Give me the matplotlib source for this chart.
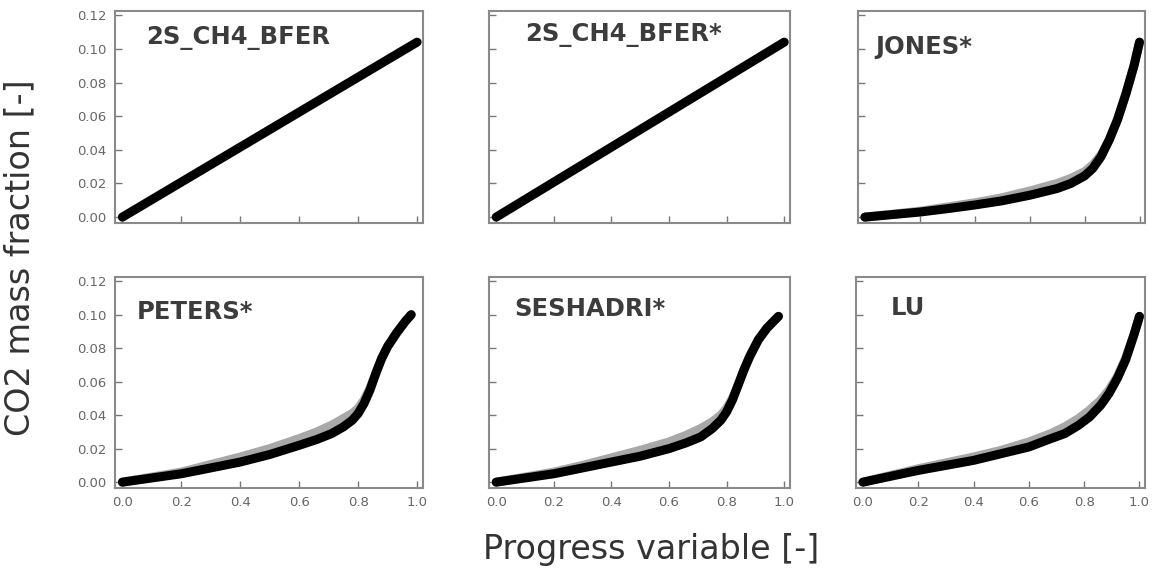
'''
CO2 mass fraction against progress variable for six mechanisms
'''
import numpy as np
import matplotlib
matplotlib.use('Agg')
import matplotlib.pyplot as plt

names = ['2S_CH4_BFER', '2S_CH4_BFER*', 'JONES*', 'PETERS*', 'SESHADRI*', 'LU']

x_lin   = [0.0, 1.0]
y_bfer  = [0.0, 0.104]
y_bfer2 = [0.0, 0.104]

x_jones = [0.0, 0.1, 0.2, 0.3, 0.4, 0.5, 0.6, 0.7, 0.75, 0.8, 0.83, 0.86, 0.89, 0.92, 0.95, 0.98, 1.0]
y_jones = [0.0, 0.0015, 0.003, 0.005, 0.0072, 0.0097, 0.013, 0.017, 0.020, 0.0245, 0.029, 0.036, 0.046, 0.058, 0.073, 0.090, 0.104]
g_jones = [0.0, 0.0017, 0.0035, 0.006, 0.0085, 0.0115, 0.0155, 0.020, 0.023, 0.027, 0.031, 0.037, 0.046, 0.058, 0.073, 0.090, 0.104]

x_peters = [0.0, 0.1, 0.2, 0.3, 0.4, 0.5, 0.6, 0.66, 0.71, 0.75, 0.78, 0.80, 0.82, 0.84, 0.86, 0.88, 0.90, 0.93, 0.96, 0.98]
y_peters = [0.0, 0.0025, 0.005, 0.0085, 0.012, 0.0165, 0.022, 0.0255, 0.029, 0.033, 0.037, 0.041, 0.047, 0.055, 0.065, 0.074, 0.081, 0.089, 0.096, 0.100]
g_peters = [0.0, 0.003, 0.006, 0.0105, 0.015, 0.020, 0.026, 0.030, 0.034, 0.038, 0.041, 0.044, 0.049, 0.056, 0.065, 0.074, 0.081, 0.089, 0.096, 0.100]

x_seshadri = [0.0, 0.1, 0.2, 0.3, 0.4, 0.5, 0.6, 0.66, 0.71, 0.75, 0.78, 0.80, 0.82, 0.84, 0.86, 0.88, 0.91, 0.94, 0.98]
y_seshadri = [0.0, 0.0025, 0.005, 0.0085, 0.012, 0.0155, 0.020, 0.0235, 0.027, 0.032, 0.037, 0.042, 0.049, 0.058, 0.067, 0.075, 0.085, 0.092, 0.099]
g_seshadri = [0.0, 0.003, 0.006, 0.010, 0.0145, 0.019, 0.024, 0.028, 0.032, 0.036, 0.040, 0.044, 0.050, 0.058, 0.067, 0.075, 0.085, 0.092, 0.099]

x_lu = [0.0, 0.1, 0.2, 0.3, 0.4, 0.5, 0.6, 0.68, 0.73, 0.78, 0.82, 0.86, 0.89, 0.92, 0.95, 0.98, 1.0]
y_lu = [0.0, 0.0035, 0.007, 0.010, 0.013, 0.017, 0.021, 0.026, 0.029, 0.034, 0.039, 0.046, 0.053, 0.062, 0.073, 0.088, 0.099]
g_lu = [0.0, 0.004, 0.008, 0.0115, 0.015, 0.019, 0.024, 0.029, 0.033, 0.038, 0.043, 0.049, 0.055, 0.063, 0.074, 0.088, 0.099]

xticks = [0.0, 0.2, 0.4, 0.6, 0.8, 1.0]
yticks = [0.00, 0.02, 0.04, 0.06, 0.08, 0.10, 0.12]

# panel boxes in pixels (left, top, right, bottom)
boxes = [(115, 11, 423, 223), (489, 11, 790, 223), (858, 11, 1145, 223),
         (115, 277, 423, 488), (489, 277, 790, 488), (856, 277, 1145, 488)]
text_pos = [(0.10, 0.875), (0.12, 0.885), (0.06, 0.83),
            (0.07, 0.835), (0.085, 0.85), (0.12, 0.855)]


def paint_panel(ax, x, y, g, name, tpos, left, bottom):
    if g is not None:
        ax.plot(x, g, color='#a8a8a8', lw=6.5, solid_capstyle='round', zorder=2)
    ax.plot(x, y, color='k', lw=6.5, solid_capstyle='round', solid_joinstyle='round', zorder=3)

    ax.set_xlim(-0.025, 1.02)
    ax.set_ylim(-0.0035, 0.1225)
    ax.set_xticks(xticks)
    ax.set_yticks(yticks)
    ax.set_xticklabels(['%.1f' % v for v in xticks] if bottom else [])
    ax.set_yticklabels(['%.2f' % v for v in yticks] if left else [])
    ax.tick_params(direction='in', length=5, width=1, colors='#777777',
                   labelsize=9.5, labelcolor='#666666', pad=6)
    for sp in ax.spines.values():
        sp.set_color('#8a8a8a')
        sp.set_linewidth(1.5)

    ax.text(tpos[0], tpos[1], name, transform=ax.transAxes, fontsize=17.5,
            fontweight='bold', color='#3c3c3c', va='center', ha='left')


def main():
    W, H = 1152, 575
    fig = plt.figure(figsize=(W / 100, H / 100), dpi=100)

    data = [(x_lin, y_bfer, None), (x_lin, y_bfer2, None), (x_jones, y_jones, g_jones),
            (x_peters, y_peters, g_peters), (x_seshadri, y_seshadri, g_seshadri),
            (x_lu, y_lu, g_lu)]

    for i, (b, d) in enumerate(zip(boxes, data)):
        l, t, r, bt = b
        ax = fig.add_axes([l / W, 1 - bt / H, (r - l) / W, (bt - t) / H])
        paint_panel(ax, d[0], d[1], d[2], names[i], text_pos[i],
                    left=(i % 3 == 0), bottom=(i >= 3))

    fig.text(20 / W, 1 - 258 / H, 'CO2 mass fraction [-]', rotation=90,
             fontsize=24, color='#333333', ha='center', va='center')
    fig.text(651 / W, 1 - 550 / H, 'Progress variable [-]',
             fontsize=24, color='#333333', ha='center', va='center')

    plt.savefig('out.png', dpi=100)


if __name__ == "__main__":
    main()
